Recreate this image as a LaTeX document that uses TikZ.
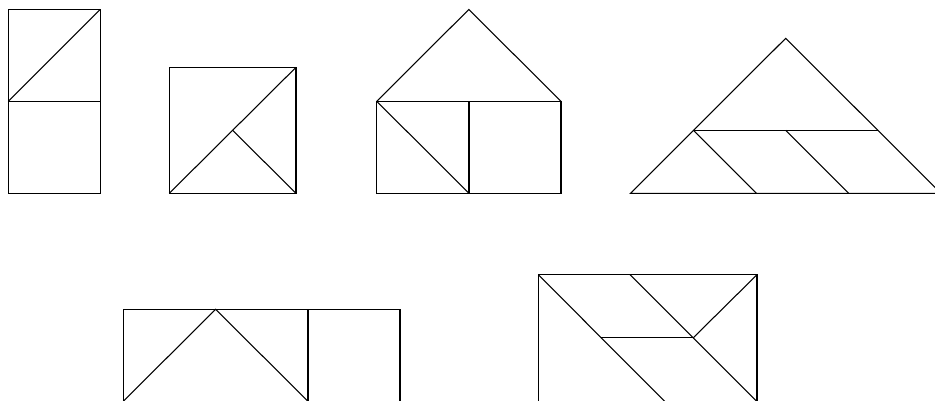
\documentclass[tikz,border=0pt]{standalone}
\begin{document}
\begin{tikzpicture}[x=0.75pt,y=-0.75pt,
  edge/.style={draw=black,line width=0.8pt,line join=miter}]
\useasboundingbox (0,0) rectangle (935,400);
\clip (0,0) rectangle (935,400);
% shape 1: tall rectangle
\draw[edge] (8.3,9.3) rectangle (100.3,193.3);
\draw[edge] (8.3,101.3) -- (100.3,101.3);
\draw[edge] (8.3,101.3) -- (100.3,9.3);
% shape 2: square
\draw[edge] (169.3,67.3) rectangle (296,193.3);
\draw[edge] (169.3,193.3) -- (296,67.3);
\draw[edge] (232.6,130.3) -- (296,193.3);
% shape 3: house
\draw[edge] (376.7,101.3) rectangle (561,193.3);
\draw[edge] (376.7,101.3) -- (468.8,9.5) -- (561,101.3);
\draw[edge] (469,101.3) -- (469,193.3);
\draw[edge] (376.7,101.3) -- (469,193.3);
% shape 4: large triangle
\draw[edge] (630.5,193.3) -- (785.7,38.3) -- (940.9,193.3) -- cycle;
\draw[edge] (693.5,130.3) -- (877.9,130.3);
\draw[edge] (693.5,130.3) -- (756.5,193.3);
\draw[edge] (785.7,130.3) -- (848.7,193.3);
% shape 5: bottom-left rectangle
\draw[edge] (123.3,401.3) -- (123.3,309.3) -- (400,309.3) -- (400,401.3);
\draw[edge] (308,309.3) -- (308,401.3);
\draw[edge] (123.3,401.3) -- (215.6,309.3) -- (308,401.3);
% shape 6: bottom-right rectangle
\draw[edge] (538.3,410) -- (538.3,274.7) -- (757,274.7) -- (757,410);
\draw[edge] (538.3,274.7) -- (673.3,410);
\draw[edge] (630,274.7) -- (757,401.7);
\draw[edge] (757,274.7) -- (693.3,337.7);
\draw[edge] (601.4,337.7) -- (693.3,337.7);
\end{tikzpicture}
\end{document}
